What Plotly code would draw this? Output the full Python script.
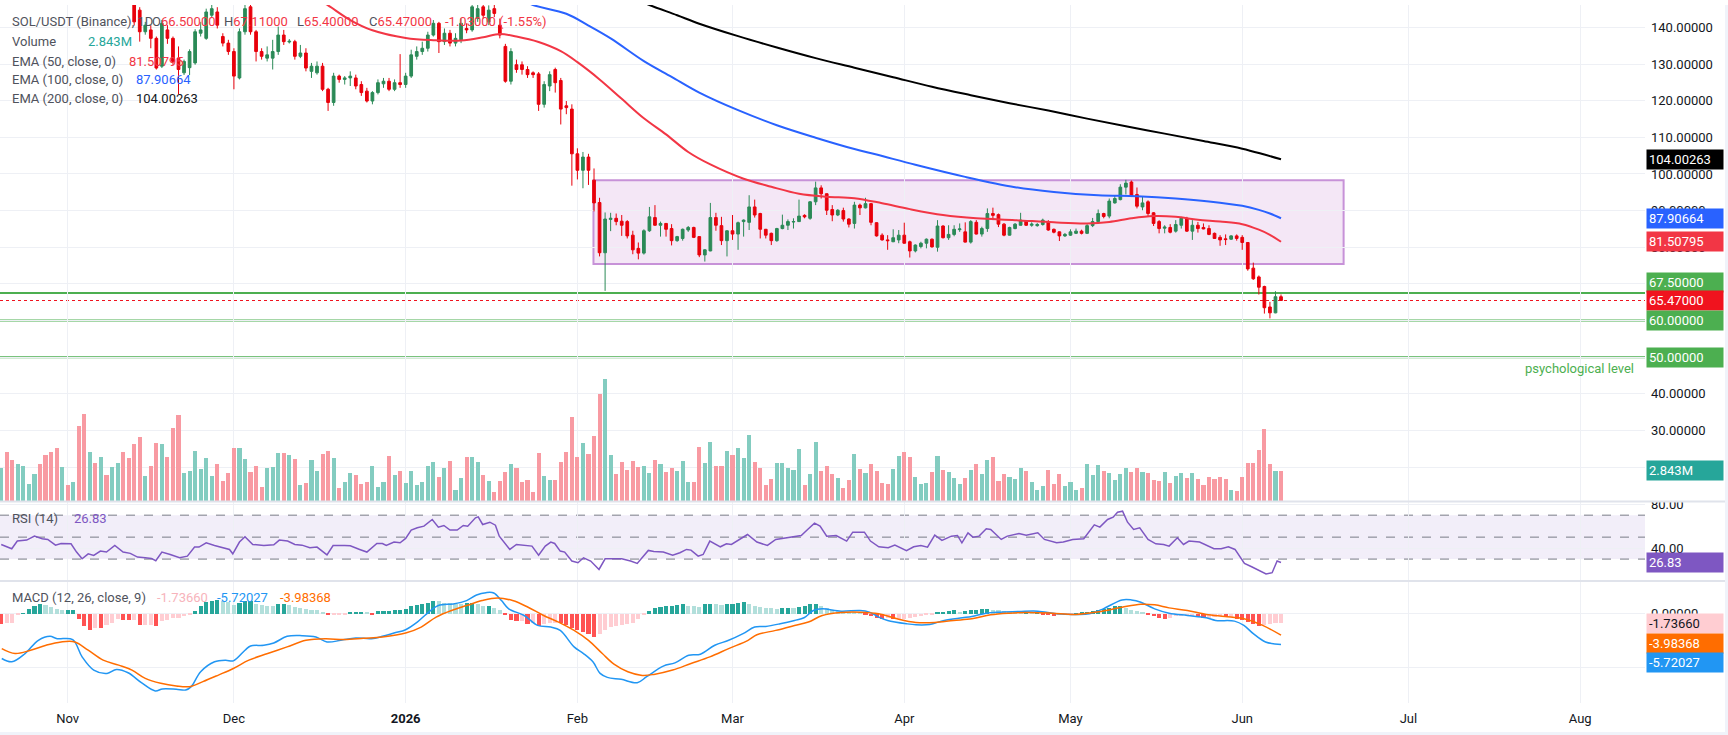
import pandas as pd
import plotly.graph_objects as go

W, H = 1728, 735
PLOT_R = 1645
FONT = "Roboto, 'Noto Sans', sans-serif"
GRID = "#eef0f5"

start_date = "2025-10-20"

opens = [183, 188, 184, 178, 183, 190, 194, 199, 195, 188,
         186, 184, 187, 185, 186, 172, 160, 163, 155, 160,
         156, 165, 168, 156, 150, 144.7, 138.8, 139.3, 137.0, 129.4,
         139.3, 137.0, 131.6, 127.6, 129.0, 130.3, 138.4, 137.0, 143.3, 144.2,
         137.5, 135.7, 133.4, 126.2, 138.8, 145.6, 138.8, 133.4, 131.6, 131.6,
         133.4, 137.9, 136.0, 136.1, 132.1, 133.0, 128.0, 127.6, 129.4, 123.1,
         119.5, 126.7, 125.8, 126.2, 126.2, 124.4, 122.6, 119.9, 122.2, 124.6,
         125.3, 123.1, 124.9, 124.4, 126.7, 132.1, 133.4, 134.3, 137.9, 141.1,
         136.1, 138.4, 135.7, 136.6, 139.7, 139.3, 142.4, 145.6, 141.5, 145.1,
         140.6, 134.8, 125.3, 129.8, 129.8, 128.5, 127.6, 127.3, 119.0, 124.0,
         128.5, 125.5, 118.6, 117.7, 105.5, 101.0, 104.6, 98.3, 92.2, 78.5,
         87.6, 87.9, 87.1, 87.0, 83.3, 79.7, 78.4, 84.5, 88.1, 86.0,
         86.5, 85.1, 81.8, 82.4, 84.7, 85.4, 82.9, 77.9, 79.0, 88.1,
         85.9, 81.8, 84.5, 83.6, 87.0, 86.8, 91.0, 89.2, 84.9, 83.8,
         81.8, 85.1, 86.0, 86.9, 87.0, 88.7, 87.9, 92.4, 96.2, 94.6,
         90.3, 88.8, 90.0, 87.7, 86.5, 91.5, 90.75, 91.9, 86.7, 83.3,
         82.0, 81.5, 82.0, 83.3, 81.5, 79.0, 80.2, 81.1, 82.2, 80.0,
         85.8, 82.6, 83.5, 84.8, 84.2, 81.4, 86.8, 83.6, 85.1, 89.2,
         88.9, 86.3, 83.3, 85.1, 86.0, 87.2, 86.0, 85.9, 86.2, 87.0,
         84.9, 84.2, 83.1, 83.3, 83.8, 84.4, 83.8, 85.9, 87.0, 89.2,
         88.5, 92.1, 93.0, 96.4, 97.8, 94.4, 91.0, 92.4, 89.4, 87.0,
         85.2, 85.4, 84.4, 86.0, 87.9, 84.4, 86.0, 85.4, 85.1, 83.8,
         82.7, 82.3, 82.2, 83.1, 82.7, 81.3, 74.3, 71.9, 69.3, 63.7,
         62.1, 66.5]

highs = [191, 193, 186, 185, 192, 196, 202, 201, 197, 191,
         189, 189, 189, 188, 187, 174, 166, 165, 162, 163,
         167, 170, 169, 158, 151, 145.5, 141.5, 140.6, 137.5, 142.0,
         140.6, 137.5, 134.8, 131.2, 134.0, 139.5, 141.5, 145.1, 146.5, 145.5,
         138.4, 136.6, 134.3, 139.7, 146.5, 146.5, 139.3, 134.3, 134.8, 136.6,
         140.2, 139.3, 136.8, 136.6, 135.2, 134.3, 130.3, 130.7, 130.3, 123.5,
         127.6, 127.1, 126.7, 128.0, 127.1, 125.3, 123.5, 122.6, 125.8, 126.2,
         126.2, 125.8, 132.7, 127.6, 133.9, 134.8, 136.1, 138.8, 142.0, 141.5,
         139.7, 139.3, 138.4, 142.4, 141.1, 146.5, 146.5, 147.0, 146.0, 146.8,
         142.4, 135.5, 134.3, 131.2, 130.7, 129.4, 128.0, 127.8, 125.3, 128.0,
         129.0, 126.2, 119.9, 119.0, 107.0, 106.0, 105.5, 101.5, 93.5, 89.5,
         89.4, 89.2, 88.8, 87.4, 84.5, 81.3, 84.9, 91.0, 91.5, 87.0,
         86.6, 86.3, 83.1, 85.1, 85.8, 85.6, 83.0, 79.5, 92.1, 89.4,
         88.3, 84.6, 88.8, 87.0, 87.6, 94.2, 93.0, 89.4, 85.0, 84.0,
         85.3, 88.9, 87.6, 87.9, 93.0, 89.0, 92.6, 97.9, 96.9, 94.7,
         91.5, 90.4, 90.8, 87.9, 92.4, 91.9, 93.5, 92.1, 86.8, 83.8,
         83.3, 84.9, 84.7, 86.7, 81.8, 80.8, 81.5, 82.4, 82.4, 87.4,
         86.0, 86.0, 86.0, 86.5, 86.8, 87.4, 87.4, 85.6, 90.6, 90.8,
         89.2, 86.6, 85.6, 86.6, 89.4, 87.4, 86.8, 86.6, 87.8, 87.4,
         85.1, 84.3, 83.9, 84.9, 85.1, 84.8, 86.3, 88.0, 90.3, 89.4,
         93.3, 94.2, 97.2, 98.4, 98.2, 96.3, 93.9, 92.8, 89.6, 87.4,
         86.0, 86.3, 87.4, 88.3, 88.3, 87.4, 86.9, 86.5, 86.0, 84.0,
         83.3, 83.5, 83.3, 83.5, 83.3, 81.4, 75.8, 72.3, 69.5, 65.1,
         68.0, 67.11]

lows = [181, 183, 175, 176, 181, 188, 192, 192, 186, 183,
        181, 182, 180, 181, 170, 157, 155, 153, 152, 153,
        155, 163, 155, 149, 140.5, 136.1, 138.0, 134.3, 128.5, 128.9,
        135.5, 129.8, 121.7, 127.0, 127.0, 129.8, 137.5, 136.6, 142.8, 139.7,
        134.8, 132.5, 123.1, 125.8, 138.0, 138.0, 130.7, 131.2, 130.7, 128.5,
        132.5, 135.2, 135.6, 131.2, 131.6, 128.0, 126.2, 127.1, 122.6, 117.2,
        118.6, 124.9, 124.4, 124.0, 123.1, 121.3, 119.5, 119.0, 121.7, 123.5,
        122.6, 122.6, 123.5, 123.5, 126.2, 131.2, 132.5, 133.4, 137.5, 133.0,
        135.2, 134.8, 134.8, 135.7, 138.4, 138.8, 141.5, 142.4, 140.6, 142.8,
        137.0, 124.9, 124.4, 127.6, 127.1, 126.2, 126.2, 117.2, 118.1, 122.6,
        122.2, 113.5, 116.3, 96.8, 98.5, 96.1, 97.0, 89.8, 77.5, 68.1,
        84.4, 86.0, 83.1, 82.4, 78.1, 76.7, 78.0, 84.2, 85.9, 82.9,
        82.9, 80.5, 81.5, 81.8, 84.2, 82.5, 77.3, 76.1, 78.9, 84.5,
        80.6, 77.5, 82.0, 79.3, 82.9, 84.7, 88.1, 82.4, 82.4, 80.6,
        81.5, 84.9, 84.7, 85.1, 86.9, 87.9, 87.5, 91.5, 93.3, 88.8,
        87.1, 88.5, 87.0, 85.4, 85.1, 88.8, 90.6, 86.0, 82.9, 81.8,
        79.3, 81.4, 81.1, 81.0, 77.2, 78.6, 79.7, 79.7, 79.9, 78.8,
        82.4, 82.0, 83.0, 84.2, 81.3, 81.0, 83.5, 82.9, 84.2, 87.4,
        85.5, 83.0, 83.2, 84.9, 85.9, 85.8, 85.6, 85.6, 85.9, 84.5,
        83.8, 81.7, 82.8, 83.1, 83.6, 83.5, 83.6, 85.5, 86.9, 87.9,
        87.9, 91.9, 92.8, 94.4, 93.7, 90.6, 90.1, 88.5, 85.8, 83.8,
        83.8, 83.8, 84.0, 85.1, 84.2, 82.0, 84.0, 84.9, 83.3, 82.3,
        80.4, 80.6, 82.0, 81.8, 79.3, 73.6, 71.1, 67.1, 61.9, 60.6,
        62.0, 65.40]

closes = [188, 184, 178, 183, 190, 194, 199, 195, 188, 186,
          184, 187, 185, 186, 172, 160, 163, 155, 160, 156,
          165, 168, 156, 150, 141.5, 138.8, 140.6, 137.0, 128.9, 141.1,
          137.0, 130.7, 128.5, 130.7, 133.4, 138.8, 139.3, 144.2, 145.1, 140.6,
          135.7, 133.4, 126.7, 138.8, 145.1, 138.8, 133.4, 132.1, 132.5, 133.4,
          137.9, 136.1, 136.2, 132.1, 133.0, 128.9, 129.4, 129.4, 123.1, 119.5,
          126.7, 125.8, 126.2, 126.7, 124.0, 122.2, 119.9, 122.2, 124.9, 125.3,
          123.1, 124.9, 124.4, 126.7, 132.5, 133.4, 134.3, 137.9, 141.1, 136.1,
          138.4, 135.7, 137.0, 141.1, 139.3, 145.6, 145.1, 143.3, 144.7, 143.8,
          137.9, 125.3, 133.4, 128.5, 128.5, 127.1, 127.1, 119.0, 124.4, 127.1,
          124.9, 117.7, 118.1, 105.5, 101.0, 104.6, 101.0, 92.1, 78.5, 87.7,
          87.9, 87.0, 86.0, 83.1, 79.3, 78.4, 84.5, 88.3, 86.0, 86.5,
          84.9, 81.8, 82.9, 84.9, 85.4, 82.7, 77.9, 79.3, 88.1, 86.0,
          81.8, 84.5, 83.6, 86.7, 87.4, 91.0, 88.8, 84.9, 83.3, 81.8,
          85.1, 86.0, 87.0, 87.0, 88.5, 88.3, 92.4, 96.2, 94.6, 90.1,
          88.8, 90.1, 87.7, 86.3, 91.5, 90.75, 91.9, 86.8, 83.1, 82.0,
          81.8, 82.6, 83.3, 81.1, 79.0, 80.6, 81.1, 82.2, 80.1, 85.8,
          82.6, 83.5, 84.9, 85.0, 81.4, 87.0, 83.6, 85.1, 89.2, 88.7,
          86.3, 83.3, 85.4, 86.3, 87.4, 86.0, 86.3, 86.2, 87.4, 84.7,
          84.1, 83.1, 83.5, 84.2, 84.4, 83.8, 85.9, 87.0, 89.2, 88.4,
          92.6, 93.3, 96.4, 97.5, 93.9, 91.2, 92.1, 89.2, 86.5, 85.1,
          85.5, 84.1, 86.2, 87.9, 84.4, 86.0, 85.1, 85.0, 83.5, 82.4,
          82.0, 82.1, 83.1, 82.4, 81.3, 74.1, 71.4, 69.1, 63.5, 62.1,
          66.5, 65.47]

volumes = [3.12, 4.59, 3.85, 3.49, 3.30, 1.65, 2.57, 3.49, 4.31, 4.59,
           4.95, 3.21, 1.56, 1.83, 6.97, 8.07, 4.59, 3.58, 4.13, 2.48,
           3.21, 3.58, 4.59, 4.04, 5.32, 5.96, 2.38, 3.30, 5.41, 5.32,
           4.13, 6.79, 7.98, 2.66, 2.84, 4.68, 3.03, 4.04, 2.38, 3.49,
           1.93, 2.66, 4.95, 4.95, 3.94, 2.75, 3.30, 1.38, 3.12, 3.21,
           4.49, 4.49, 4.31, 3.94, 1.56, 1.74, 3.85, 2.84, 4.40, 4.68,
           4.04, 1.28, 1.83, 2.66, 2.48, 1.65, 1.83, 3.30, 1.38, 1.83,
           4.22, 2.48, 2.84, 1.74, 2.84, 1.56, 1.83, 3.30, 3.67, 2.29,
           3.12, 3.76, 1.10, 2.20, 4.13, 4.13, 3.67, 2.48, 1.93, 0.92,
           1.93, 2.75, 3.49, 3.12, 1.83, 2.02, 0.92, 4.49, 2.38, 2.02,
           2.02, 3.67, 4.59, 7.80, 4.13, 5.41, 4.40, 6.05, 9.90, 11.37,
           4.31, 2.57, 3.67, 2.93, 3.76, 3.21, 3.30, 2.66, 3.85, 3.49,
           2.75, 3.12, 2.84, 3.76, 1.83, 1.83, 5.04, 3.58, 5.50, 3.30,
           3.30, 4.68, 4.31, 4.95, 4.04, 6.14, 3.67, 3.12, 1.56, 2.11,
           3.58, 3.58, 3.12, 2.93, 4.86, 1.56, 2.57, 5.50, 2.84, 3.30,
           2.57, 2.20, 1.28, 2.02, 4.40, 3.03, 2.66, 3.49, 2.84, 1.74,
           1.65, 3.03, 4.22, 4.59, 4.13, 2.29, 1.65, 1.74, 2.75, 4.22,
           2.93, 2.75, 2.20, 1.65, 2.20, 2.93, 3.49, 2.57, 3.85, 4.13,
           1.93, 2.57, 2.29, 2.11, 3.12, 2.84, 1.83, 1.10, 1.47, 2.93,
           1.65, 2.57, 1.47, 1.83, 1.10, 1.28, 3.49, 2.48, 3.39, 2.84,
           2.66, 2.02, 2.57, 3.12, 2.75, 3.12, 2.75, 2.66, 2.02, 1.93,
           2.75, 1.74, 2.38, 2.66, 2.20, 2.66, 2.11, 1.56, 2.29, 2.11,
           2.29, 2.11, 1.10, 1.01, 2.29, 3.58, 3.58, 4.77, 6.69, 3.49,
           2.84, 2.843]

ema50_day = [57, 59, 63, 67, 73, 78, 83, 87, 90, 93, 97, 101, 104, 108, 112, 116, 120, 124,
             128, 134, 139, 144, 149, 154, 159, 164, 170, 176, 183, 190, 196, 200, 204, 208,
             212, 216, 220, 224, 227, 229, 231]
ema50_val = [147.8, 146.0, 142.0, 139.2, 137.1, 136.5, 136.4, 137.3, 138.2, 137.5, 136.0, 133.5,
             130.5, 125.8, 120.5, 115.2, 110.8, 106.0, 102.6, 98.7, 96.5, 94.6, 93.8, 93.4, 92.0,
             90.4, 88.8, 87.9, 87.4, 86.8, 86.5, 86.9, 87.9, 88.5, 88.3, 87.5, 87.0, 86.3, 84.8,
             83.4, 81.50795]

ema100_day = [94, 96, 102, 106, 110, 116, 121, 126, 133, 140, 147, 154, 158, 165, 174, 183,
              190, 198, 205, 212, 218, 224, 227, 229, 231]
ema100_val = [147.5, 146.1, 143.7, 140.5, 137.0, 130.8, 126.5, 122.2, 117.4, 113.3, 109.9, 106.8,
              105.3, 102.5, 99.2, 96.4, 95.1, 94.2, 93.9, 93.3, 92.5, 91.3, 90.2, 89.2, 87.90664]

ema200_day = [115, 117, 122, 126, 133, 140, 147, 154, 161, 168, 175, 182, 189, 196, 203, 210,
              217, 224, 228, 231]
ema200_val = [147.4, 146.1, 143.3, 141.0, 137.6, 134.5, 131.6, 129.0, 126.4, 123.8, 121.5, 119.3,
              117.3, 115.1, 113.0, 111.0, 109.0, 106.9, 105.3, 104.00263]

rsi_day = [0.0, 1.9, 2.9, 4.6, 6.0, 7.4, 8.4, 9.8, 10.8, 12.6, 13.6, 14.6, 15.7, 16.7, 17.9, 19.0,
           20.5, 22.0, 23.3, 24.6, 26.0, 27.1, 27.9, 29.0, 30.5, 32.2, 33.6, 34.9, 35.7, 37.0,
           38.5, 40.2, 41.2, 41.8, 43.0, 44.0, 45.4, 47.4, 49.2, 50.2, 51.7, 53.0, 54.3, 55.7,
           57.0, 58.8, 59.9, 62.0, 63.0, 64.7, 66.0, 67.8, 68.8, 69.5, 70.9, 72.0, 73.0, 74.0,
           75.1, 76.3, 77.8, 78.9, 79.9, 81.0, 82.3, 83.4, 84.2, 85.6, 86.1, 86.9, 88.2, 89.2,
           89.9, 91.8, 93.0, 95.8, 97.0, 98.2, 99.2, 99.9, 100.9, 101.7, 103.0, 104.1, 105.1,
           106.4, 107.9, 109.0, 112.0, 113.6, 114.8, 116.8, 117.8, 119.5, 121.2, 122.5, 123.7,
           124.5, 125.8, 126.7, 127.9, 129.8, 130.9, 131.8, 132.9, 134.7, 136.4, 138.3, 139.8,
           141.9, 143.2, 144.4, 145.7, 146.8, 147.8, 149.0, 150.7, 152.6, 153.7, 155.8, 156.9,
           158.4, 160.1, 161.3, 163.4, 164.7, 166.0, 167.2, 168.5, 169.8, 171.5, 172.6, 173.4,
           174.5, 175.4, 176.5, 177.8, 178.6, 180.5, 181.6, 183.7, 185.0, 187.1, 188.3, 190.5,
           191.7, 193.4, 195.4, 197.3, 198.3, 199.7, 200.7, 201.5, 202.4, 203.3, 204.4, 205.5,
           207.0, 208.4, 209.8, 210.8, 212.3, 213.4, 214.4, 216.3, 217.6, 218.9, 220.2, 221.5,
           222.7, 224.4, 225.7, 227.0, 228.3, 229.4, 230.3, 231.0]
rsi_val = [43.3, 39.4, 46.4, 47.3, 50.9, 48.5, 47.9, 42.7, 44.2, 43.9, 36.4, 30.3, 34.8, 33.3, 37.3,
           36.4, 42.4, 36.4, 35.2, 31.8, 31.2, 30.6, 28.5, 36.4, 34.2, 31.2, 32.7, 40.9, 40.9, 44.8,
           42.4, 40.3, 38.8, 34.8, 45.5, 50.3, 43.3, 42.4, 43.0, 47.3, 46.4, 43.3, 42.7, 40.3,
           40.9, 33.9, 42.4, 42.4, 42.1, 38.8, 36.4, 44.2, 44.2, 42.4, 45.5, 44.8, 48.8, 56.4,
           58.5, 60.0, 66.1, 59.1, 60.6, 56.4, 56.4, 60.6, 60.0, 67.6, 68.5, 61.5, 63.6, 60.9,
           50.9, 38.8, 43.3, 41.8, 33.6, 41.8, 45.5, 44.2, 37.3, 36.4, 28.2, 26.7, 31.2,
           28.2, 20.6, 30.3, 30.3, 28.2, 26.1, 37.9, 37.0, 36.4, 33.6, 35.8, 38.8,
           38.2, 32.7, 34.2, 46.4, 41.2, 43.9, 43.3, 47.0, 52.4, 45.5, 42.4, 47.9,
           49.4, 50.3, 51.5, 57.6, 62.7, 60.0, 50.9, 51.5, 46.4, 54.5, 54.5, 46.4,
           41.2, 40.3, 42.7, 37.6, 41.2, 42.4, 40.9, 51.8, 47.0, 50.9, 51.5, 44.8,
           53.9, 50.0, 50.9, 57.6, 57.0, 47.9, 50.9, 53.3, 51.8, 53.9, 47.9, 44.8,
           45.5, 47.9, 48.5, 61.2, 59.1, 66.1, 68.2, 72.7, 73.6, 63.6, 57.0, 58.5,
           47.9, 43.9, 43.3, 41.8, 49.4, 43.3, 46.4, 45.5, 42.7, 39.4, 39.4, 41.2,
           38.8, 26.1, 23.0, 19.7, 16.4, 17.6, 28.2, 26.83]

macd_day = [0.1, 1.9, 4.3, 6.7, 8.8, 10.1, 12.9, 14.6, 16.7, 19.1, 20.8, 22.9, 25.3, 27.8, 29.1,
            31.6, 33.3, 34.3, 36.0, 38.5, 40.5, 41.9, 44.0, 45.0, 47.4, 49.2, 51.6, 54.3, 56.8,
            58.8, 61.3, 64.0, 66.8, 68.8, 70.9, 73.0, 75.1, 76.8, 78.9, 81.6, 84.0, 85.8, 87.5,
            88.9, 90.3, 91.6, 94.4, 96.8, 99.2, 100.9, 103.4, 105.1, 106.8, 108.1, 109.4, 111.9,
            114.8, 116.5, 119.5, 121.6, 124.1, 126.2, 128.8, 131.3, 133.9, 136.0, 138.0, 140.6,
            143.2, 144.9, 146.6, 148.2, 151.6, 155.0, 156.7, 158.4, 160.0, 163.4, 165.1, 167.6,
            170.2, 173.5, 175.2, 177.8, 180.3, 183.7, 187.1, 190.5, 193.9, 196.4, 198.9, 202.3,
            204.0, 205.7, 208.2, 210.8, 214.1, 217.5, 219.2, 222.6, 224.3, 226.0, 228.2, 231.0]
macd_val = [-8.33, -8.95, -7.41, -4.94, -4.20, -4.63, -4.81, -8.02, -10.49, -11.11, -10.37, -10.99,
            -12.84, -14.38, -14.01, -14.07, -14.20, -13.58, -10.80, -8.95, -8.64, -8.77, -6.79,
            -5.99, -5.86, -5.43, -4.20, -4.07, -4.32, -5.25, -4.94, -4.51, -4.63, -4.20, -3.58,
            -2.96, -1.54, 0.00, 1.54, 1.85, 2.47, 3.52, 3.95, 3.89, 2.47, 0.93, -0.31, -2.16,
            -2.47, -3.09, -6.17, -7.41, -8.95, -11.11, -11.85, -12.22, -12.84, -11.73, -9.75,
            -9.14, -7.72, -7.53, -5.86, -4.94, -3.70, -2.47, -2.35, -1.85, -1.23, -0.74, 0.62,
            0.93, 0.49, 0.62, 0.31, -0.62, -1.23, -1.85, -2.04, -1.98, -1.23, -0.74, -0.49, 0.12,
            0.31, 0.43, 0.49, 0.00, -0.12, 0.00, 0.93, 2.59, 2.59, 2.16, 0.93, 0.12, -0.31,
            -0.74, -1.23, -1.36, -2.16, -3.70, -5.25, -5.72027]

signal_day = [0.1, 2.5, 5.3, 8.1, 10.8, 13.3, 15.7, 18.4, 21.2, 23.6, 26.0, 28.8, 31.6, 34.0, 36.4,
              39.2, 41.9, 44.7, 48.1, 51.6, 55.0, 58.5, 61.9, 65.4, 68.8, 73.0, 75.8, 78.5, 81.3,
              84.0, 86.8, 89.6, 92.3, 95.1, 97.9, 100.6, 103.4, 106.0, 108.5, 110.6, 113.1, 115.7,
              117.8, 121.2, 124.5, 127.9, 131.3, 134.8, 136.4, 139.8, 143.2, 145.7, 148.2, 151.6,
              155.0, 158.4, 161.7, 165.1, 168.5, 171.9, 175.2, 178.6, 182.0, 185.3, 189.6, 193.9,
              198.1, 202.3, 205.7, 208.2, 210.8, 214.1, 217.5, 220.9, 224.3, 227.7, 231.0]
signal_val = [-6.48, -7.41, -6.79, -5.86, -5.25, -5.25, -6.79, -8.64, -9.57, -10.49, -12.04, -12.96,
              -13.46, -13.58, -12.65, -11.42, -10.19, -8.64, -7.41, -6.17, -4.94, -4.63, -4.81,
              -4.57, -4.32, -3.58, -2.47, -0.62, 0.62, 1.54, 2.47, 2.96, 2.47, 1.23, -0.31, -1.54,
              -3.09, -4.94, -7.41, -9.38, -10.80, -11.48, -11.30, -10.49, -9.26, -8.02, -6.48,
              -4.94, -3.90, -3.09, -2.16, -1.54, -0.31, 0.25, 0.31, 0.00, -0.93, -1.60, -1.60,
              -1.23, -0.93, -0.19, 0.12, 0.25, 0.12, -0.12, 0.37, 1.23, 1.79, 1.67, 1.11, 0.62,
              -0.12, -0.49, -0.93, -2.16, -3.98368]

hist_vals = [-1.98, -1.73, -1.73, -0.12, 0.12, 0.80, 1.36, 1.85, 1.67, 1.23,
             0.93, 0.74, 0.74, 0.74, -0.93, -2.35, -3.09, -2.59, -2.65, -2.16,
             -1.67, -0.93, -1.11, -1.23, -1.23, -2.16, -2.16, -2.16, -2.35, -1.36,
             -1.11, -0.86, -0.80, -0.49, -0.12, 0.49, 1.36, 2.16, 2.47, 2.59,
             2.47, 2.16, 1.67, 1.98, 2.35, 2.35, 1.85, 1.67, 1.54, 1.36,
             1.73, 1.73, 1.67, 1.23, 1.05, 0.93, 0.74, 0.62, 0.19, -0.25,
             -0.19, -0.19, -0.12, 0.25, 0.25, 0.25, 0.19, -0.05, 0.43, 0.43,
             0.49, 0.62, 0.74, 0.86, 1.48, 1.60, 1.85, 2.04, 2.47, 2.35,
             2.10, 1.98, 1.85, 1.73, 1.98, 1.98, 1.85, 1.54, 1.54, 1.11,
             0.62, -0.31, -1.11, -1.36, -1.30, -1.85, -1.73, -2.35, -1.98, -1.73,
             -1.67, -1.73, -2.16, -2.59, -2.96, -3.40, -3.70, -4.32, -3.70, -3.09,
             -2.47, -2.35, -2.16, -1.98, -1.73, -0.93, -0.12, 0.49, 1.11, 1.23,
             1.36, 1.54, 1.67, 1.73, 1.54, 1.36, 1.23, 1.73, 1.85, 1.73,
             1.70, 1.85, 1.87, 2.04, 2.28, 1.85, 1.54, 1.23, 1.11, 0.99,
             0.97, 1.11, 1.11, 1.08, 1.23, 1.54, 1.73, 1.75, 1.36, 1.11,
             0.74, 0.49, 0.31, 0.25, 0.19, 0.12, -0.31, -0.49, -0.74, -0.93,
             -0.80, -0.99, -0.93, -0.93, -0.74, -0.62, -0.49, -0.31, -0.12, 0.19,
             0.31, 0.49, 0.62, 0.31, 0.49, 0.62, 0.74, 0.93, 0.95, 0.74,
             0.62, 0.43, 0.25, 0.19, 0.12, 0.12, 0.05, 0.12, -0.12, -0.25,
             -0.37, -0.19, -0.12, -0.06, 0.12, 0.19, 0.31, 0.49, 0.74, 0.93,
             1.11, 1.36, 1.54, 1.11, 0.74, 0.49, 0.25, -0.31, -0.49, -0.74,
             -0.93, -0.74, -0.49, -0.49, -0.49, -0.49, -0.68, -0.80, -0.80, -0.62,
             -0.49, -0.62, -0.60, -0.93, -1.23, -1.54, -1.98, -2.35, -2.16, -1.85,
             -1.80, -1.7366]

level_lines = [67.5, 60.0, 50.0]
last_price = 65.47
range_box = dict(day0=106.9, day1=242.3, low=75.4, high=98.25)
month_ticks = ["2025-11-01", "2025-12-01", "2026-01-01", "2026-02-01", "2026-03-01",
               "2026-04-01", "2026-05-01", "2026-06-01", "2026-07-01", "2026-08-01"]
month_text = ["Nov", "Dec", "<b>2026</b>", "Feb", "Mar", "Apr", "May", "Jun", "Jul", "Aug"]
price_ticks = [20, 30, 40, 50, 60, 70, 80, 90, 100, 110, 120, 130, 140]

n = len(opens)
assert len(highs) == n and len(lows) == n and len(closes) == n
assert len(volumes) == n and len(hist_vals) == n

base = pd.Timestamp(start_date)
dates = [base + pd.Timedelta(days=i) for i in range(n)]


def to_dt(days):
    return [base + pd.Timedelta(days=float(d)) for d in days]


UP = "#2b8a57"
DOWN = "#e8000b"
vol_colors = ["#83ccc0" if c >= o else "#f89aa2" for o, c in zip(opens, closes)]
hist_colors = []
prev = 0.0
for h in hist_vals:
    if h >= 0:
        hist_colors.append("#26a69a" if h >= prev else "#b2dfdb")
    else:
        hist_colors.append("#ff5252" if h < prev else "#ffcdd2")
    prev = h

DAY_MS = 86400000
fig = go.Figure()

fig.add_trace(go.Bar(x=dates, y=volumes, marker=dict(color=vol_colors, line=dict(width=0)),
                     width=0.74 * DAY_MS, xaxis="x", yaxis="y", hoverinfo="skip"))
fig.add_trace(go.Candlestick(x=dates, open=opens, high=highs, low=lows, close=closes,
                             xaxis="x", yaxis="y2", whiskerwidth=0,
                             increasing=dict(line=dict(color=UP, width=1), fillcolor=UP),
                             decreasing=dict(line=dict(color=DOWN, width=1), fillcolor=DOWN),
                             hoverinfo="skip"))
fig.add_trace(go.Scatter(x=to_dt(ema200_day), y=ema200_val, mode="lines", xaxis="x", yaxis="y2",
                         line=dict(color="#000000", width=2, shape="spline"), hoverinfo="skip"))
fig.add_trace(go.Scatter(x=to_dt(ema100_day), y=ema100_val, mode="lines", xaxis="x", yaxis="y2",
                         line=dict(color="#2962ff", width=2, shape="spline"), hoverinfo="skip"))
fig.add_trace(go.Scatter(x=to_dt(ema50_day), y=ema50_val, mode="lines", xaxis="x", yaxis="y2",
                         line=dict(color="#f23645", width=2, shape="spline"), hoverinfo="skip"))

fig.add_trace(go.Scatter(x=to_dt(rsi_day), y=rsi_val, mode="lines", xaxis="x2", yaxis="y3",
                         line=dict(color="#7e57c2", width=1.5), hoverinfo="skip"))

fig.add_trace(go.Bar(x=dates, y=hist_vals, marker=dict(color=hist_colors, line=dict(width=0)),
                     width=0.74 * DAY_MS, xaxis="x3", yaxis="y4", hoverinfo="skip"))
fig.add_trace(go.Scatter(x=to_dt(macd_day), y=macd_val, mode="lines", xaxis="x3", yaxis="y4",
                         line=dict(color="#2196f3", width=1.5, shape="spline"), hoverinfo="skip"))
fig.add_trace(go.Scatter(x=to_dt(signal_day), y=signal_val, mode="lines", xaxis="x3", yaxis="y4",
                         line=dict(color="#ff6d00", width=1.5, shape="spline"), hoverinfo="skip"))

x_range = ["2025-10-19 18:43", "2026-08-12 16:48"]
dom_x = [0, PLOT_R / W]
price_dom = [1 - 500 / H, 1]
rsi_dom = [1 - 580 / H, 1 - 500 / H]
macd_dom = [1 - 703 / H, 1 - 580 / H]
tickfont = dict(family=FONT, size=13, color="#131722")

common_x = dict(domain=dom_x, type="date", range=x_range, tickvals=month_ticks, showgrid=True,
                gridcolor=GRID, gridwidth=1, zeroline=False, showline=False, ticks="",
                fixedrange=True)
common_y = dict(side="right", showgrid=True, gridcolor=GRID, zeroline=False, showline=False,
                ticks="", ticklabelstandoff=5, tickfont=tickfont, fixedrange=True)

shapes = []
shapes.append(dict(type="rect", xref="x", yref="y2",
                   x0=base + pd.Timedelta(days=range_box["day0"]),
                   x1=base + pd.Timedelta(days=range_box["day1"]),
                   y0=range_box["low"], y1=range_box["high"],
                   fillcolor="rgba(186,104,200,0.16)", line=dict(color="#c792d8", width=2),
                   layer="below"))
for lv in level_lines:
    shapes.append(dict(type="line", xref="x domain", yref="y2", x0=0, x1=1, y0=lv, y1=lv,
                       line=dict(color="#4caf50", width=2), layer="below"))
shapes.append(dict(type="line", xref="x domain", yref="y2", x0=0, x1=1, y0=last_price,
                   y1=last_price, line=dict(color="#f0131e", width=1, dash="dot"), layer="below"))
shapes.append(dict(type="rect", xref="x2 domain", yref="y3", x0=0, x1=1, y0=30, y1=70,
                   fillcolor="rgba(126,87,194,0.1)", line=dict(width=0), layer="below"))
for lv in (70, 50, 30):
    shapes.append(dict(type="line", xref="x2 domain", yref="y3", x0=0, x1=1, y0=lv, y1=lv,
                       line=dict(color="#787b86", width=1, dash="dash"), layer="below"))
shapes.append(dict(type="rect", xref="paper", yref="paper", x0=PLOT_R / W, x1=1,
                   y0=1 - 500 / H, y1=1 - 490 / H, fillcolor="#ffffff", line=dict(width=0),
                   layer="above"))
for ypx in (500, 580):
    shapes.append(dict(type="line", xref="paper", yref="paper", x0=0, x1=1,
                       y0=1 - ypx / H, y1=1 - ypx / H, line=dict(color="#e0e3eb", width=2),
                       layer="above"))
shapes.append(dict(type="rect", xref="paper", yref="paper", x0=0, x1=1, y0=0, y1=3 / H,
                   fillcolor="#f0f3fa", line=dict(width=0), layer="above"))
shapes.append(dict(type="rect", xref="paper", yref="paper", x0=1 - 3 / W, x1=1, y0=0, y1=1,
                   fillcolor="#f0f3fa", line=dict(width=0), layer="above"))

GRAY = "#4f525c"
RED = "#f23645"


def txt(x, y, text, color, size=13, anchor="left"):
    return dict(x=x / W, y=1 - y / H, xref="paper", yref="paper", text=text, showarrow=False,
                xanchor=anchor, yanchor="middle", font=dict(family=FONT, size=size, color=color))


def vbox(text, y, yref, bg, fg="#ffffff", yshift=0):
    return dict(x=(PLOT_R + 1) / W, xref="paper", y=y, yref=yref, text=text, showarrow=False,
                xanchor="left", yanchor="middle", bgcolor=bg, borderpad=2, width=72,
                align="left", yshift=yshift, font=dict(family=FONT, size=13, color=fg))


o, h_, l_, c = opens[-1], highs[-1], lows[-1], closes[-1]
chg = c - closes[-2]
pct = chg / closes[-2] * 100
ann = [
    txt(10, 17, "SOL/USDT (Binance), 1D", GRAY),
    txt(150, 17, f"O<span style='color:{RED}'>{o:.5f}</span>", GRAY),
    txt(222, 17, f"H<span style='color:{RED}'>{h_:.5f}</span>", GRAY),
    txt(295, 17, f"L<span style='color:{RED}'>{l_:.5f}</span>", GRAY),
    txt(367, 17, f"C<span style='color:{RED}'>{c:.5f}</span>", GRAY),
    txt(443, 17, f"{chg:.5f} ({pct:.2f}%)", RED),
    txt(10, 37, "Volume", GRAY),
    txt(86, 37, f"{volumes[-1]:.3f}M", "#26a69a"),
    txt(10, 56.5, "EMA (50, close, 0)", GRAY),
    txt(127, 56.5, f"{ema50_val[-1]:.5f}", RED),
    txt(10, 75.5, "EMA (100, close, 0)", GRAY),
    txt(134, 75.5, f"{ema100_val[-1]:.5f}", "#2962ff"),
    txt(10, 94.5, "EMA (200, close, 0)", GRAY),
    txt(134, 94.5, f"{ema200_val[-1]:.5f}", "#131722"),
    txt(10, 517, "RSI (14)", GRAY),
    txt(72, 517, f"{rsi_val[-1]:.2f}", "#7e57c2"),
    txt(10, 597, "MACD (12, 26, close, 9)", GRAY),
    txt(155, 597, f"{hist_vals[-1]:.5f}", "#f7b3bb"),
    txt(215, 597, f"{macd_val[-1]:.5f}", "#2196f3"),
    txt(278, 597, f"{signal_val[-1]:.5f}", "#ff6d00"),
    txt(1636, 365.5, "psychological level", "#4caf50", anchor="right"),
    vbox(f"{ema200_val[-1]:.5f}", ema200_val[-1], "y2", "#000000"),
    vbox(f"{ema100_val[-1]:.5f}", ema100_val[-1], "y2", "#2962ff"),
    vbox(f"{ema50_val[-1]:.5f}", ema50_val[-1], "y2", "#f23645"),
    vbox(f"{level_lines[0]:.5f}", level_lines[0], "y2", "#4caf50", yshift=11),
    vbox(f"{last_price:.5f}", last_price, "y2", "#f0131e"),
    vbox(f"{level_lines[1]:.5f}", level_lines[1], "y2", "#4caf50"),
    vbox(f"{level_lines[2]:.5f}", level_lines[2], "y2", "#4caf50"),
    vbox(f"{volumes[-1]:.3f}M", volumes[-1], "y", "#26a69a"),
    vbox(f"{rsi_val[-1]:.2f}", rsi_val[-1], "y3", "#7e57c2"),
    vbox(f"{hist_vals[-1]:.5f}", hist_vals[-1], "y4", "#ffcdd2", fg="#131722"),
    vbox(f"{signal_val[-1]:.5f}", signal_val[-1], "y4", "#ff6d00", yshift=-8),
    vbox(f"{macd_val[-1]:.5f}", macd_val[-1], "y4", "#2196f3", yshift=-18),
]

fig.update_layout(
    width=W, height=H, margin=dict(l=0, r=0, t=0, b=0),
    paper_bgcolor="#ffffff", plot_bgcolor="#ffffff", showlegend=False,
    font=dict(family=FONT, color="#131722"),
    xaxis=dict(common_x, anchor="y", showticklabels=False, rangeslider=dict(visible=False)),
    yaxis=dict(domain=price_dom, range=[0, 45.9], visible=False, fixedrange=True),
    yaxis2=dict(common_y, overlaying="y", anchor="x", range=[10.6, 146.1],
                tickvals=price_ticks, tickformat=".5f"),
    xaxis2=dict(common_x, anchor="y3", matches="x", showticklabels=False),
    yaxis3=dict(common_y, domain=rsi_dom, anchor="x2", range=[10.0, 82.35],
                tickvals=[40, 80], tickformat=".2f"),
    xaxis3=dict(common_x, anchor="y4", matches="x", ticktext=month_text, showticklabels=True,
                tickfont=dict(family=FONT, size=13, color="#131722"), ticklabelstandoff=6),
    yaxis4=dict(common_y, domain=macd_dom, anchor="x3", range=[-16.67, 6.11],
                tickvals=[-10, 0], tickformat=".5f"),
    shapes=shapes,
    annotations=ann,
    bargap=0,
)

fig.write_html("out.html")
